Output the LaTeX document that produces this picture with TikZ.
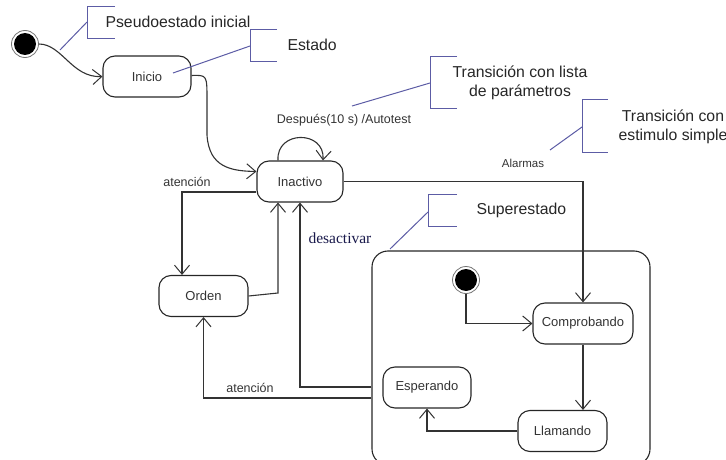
\documentclass[tikz,border=0pt]{standalone}
\usepackage{fontspec}
\setmainfont{Liberation Sans}
\newfontfamily\serifface{Liberation Serif}
\usetikzlibrary{arrows.meta,calc}
\definecolor{notecol}{RGB}{92,92,165}
\definecolor{navy}{RGB}{25,25,75}
\begin{document}
\begin{tikzpicture}[x=1pt,y=-1pt,
  state/.style={draw=black!85, line width=1.1pt, rounded corners=12pt,
    minimum height=41pt, inner sep=0pt, text=black!80,
    font=\fontsize{13}{15}\selectfont},
  initial/.style={circle, draw=black!55, line width=0.8pt, fill=white,
    minimum size=27pt, inner sep=0pt},
  flow/.style={draw=black!80, line width=1.1pt,
    -{Straight Barb[length=9pt,width=15pt,line width=1pt]}},
  note/.style={draw=notecol, line width=1pt},
  notetext/.style={font=\fontsize{15.8}{19}\selectfont, text=black!85},
  lbl/.style={font=\fontsize{12.5}{15}\selectfont, text=black!80},
]
\useasboundingbox (0,0) rectangle (726,460);
\clip (0,0) rectangle (726,460);

% superstate frame
\node[draw=black!85, line width=1.1pt, rounded corners=16pt,
  minimum width=278pt, minimum height=214pt] (sup) at (511,358) {};

% initial pseudostates
\node[initial] (init1) at (25,44) {};
\fill[black] (init1.center) circle (11pt);
\node[initial] (init2) at (466,280) {};
\fill[black] (init2.center) circle (11pt);

% states
\node[state, minimum width=88pt] (inicio) at (147,76.5) {Inicio};
\node[state, minimum width=86pt] (inactivo) at (300,181.5) {Inactivo};
\node[state, minimum width=89pt] (orden) at (203.5,296) {Orden};
\node[state, minimum width=100pt] (comp) at (583,323.5) {Comprobando};
\node[state, minimum width=89pt] (llam) at (562.5,431) {Llamando};
\node[state, minimum width=88pt] (esp) at (427,387.5) {Esperando};

% helper points on the superstate border and corners of the routes
\coordinate (desout) at (sup.west |- 0,387);
\coordinate (atnout) at (sup.west |- 0,398);
\coordinate (ordjog) at (278,293);

% transitions
\draw[flow] (init1.east) .. controls (62,44) and (72,78) .. (inicio.west);
\draw[flow] ([yshift=1pt]inicio.east) .. controls (207,75) .. (207,100)
  -- (207,135) .. controls (209,168) and (232,171) .. ([yshift=10pt]inactivo.west);
\draw[flow] ([xshift=-22pt]inactivo.north) .. controls (276,130) and (325,130)
  .. ([xshift=23pt]inactivo.north);
\draw[flow] ([yshift=-10.5pt]inactivo.west) -| ([xshift=-21.5pt]orden.north);
\draw[flow] (orden.east) -- (ordjog) -- (ordjog |- inactivo.south);
\draw[flow] (desout) -| (inactivo.south);
\draw[flow] (atnout) -| (orden.south);
\draw[flow] (inactivo.east) -| (comp.north);
\draw[flow] (init2.south) |- (comp.west);
\draw[flow] (comp.south) -- (comp.south |- llam.north);
\draw[flow] (llam.west) -| (esp.south);

% transition labels
\node[lbl] (lloop) at (344,120) {Después(10 s) /Autotest};
\node[lbl, font=\fontsize{11.5}{14}\selectfont] (lalarm) at (523,163) {Alarmas};
\node[lbl] (latn1) at (187,182) {atención};
\node[lbl] (latn2) at (250,388) {atención};
\node[anchor=west, text=navy, font=\serifface\fontsize{15.5}{18}\selectfont]
  (ldes) at (305,238) {desactivar};

% annotation brackets
\coordinate (b1) at (87,22);
\draw[note] (115,7) -- (87,7) -- (87,39) -- (115,39);
\draw[note] (60,50) -- (b1);
\node[notetext, anchor=west] (t1) at (102,22) {Pseudoestado inicial};

\coordinate (b2) at (250,46);
\draw[note] (277,30) -- (250,30) -- (250,62) -- (277,62);
\draw[note] (173,73) -- (b2);
\node[notetext, anchor=west] (t2) at (284,45) {Estado};

\coordinate (b3) at (430,83);
\draw[note] (457,57) -- (430,57) -- (430,108) -- (457,108);
\draw[note] (352,106) -- (b3);
\node[notetext, align=center] (t3) at (520,82.5) {Transición con lista\\de parámetros};

\coordinate (b4) at (582,127);
\draw[note] (608,100) -- (582,100) -- (582,152) -- (608,152);
\draw[note] (550,150) -- (b4);
\node[notetext, align=center] (t4) at (673,126.5) {Transición con\\estimulo simple};

\coordinate (b5) at (428,212);
\draw[note] (457,194) -- (428,194) -- (428,226) -- (457,226);
\draw[note] (390,249) -- (b5);
\node[notetext, anchor=west] (t5) at (473,210) {Superestado};
\end{tikzpicture}
\end{document}
